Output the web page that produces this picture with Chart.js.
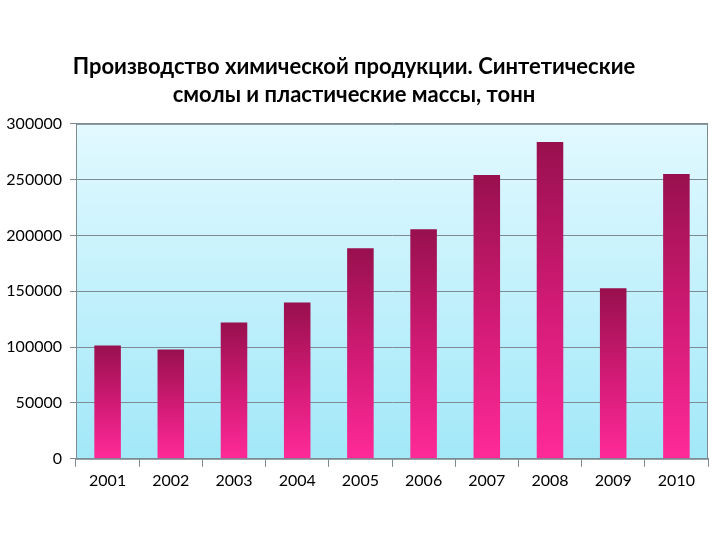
<!DOCTYPE html>
<html>
<head>
<meta charset="utf-8">
<script src="https://cdn.jsdelivr.net/npm/chart.js@4"></script>
<style>
  html, body { margin: 0; padding: 0; background: #fff; }
  #wrap { width: 720px; height: 540px; }
</style>
</head>
<body>
<div id="wrap"><canvas id="chart" width="720" height="540"></canvas></div>
<script>
// chart data
const years = ['2001', '2002', '2003', '2004', '2005', '2006', '2007', '2008', '2009', '2010'];
const tonnes = [101500, 97900, 122100, 140100, 188600, 205700, 254200, 283800, 152700, 255100];
const titleLines = ['Производство химической продукции. Синтетические', 'смолы и пластические массы, тонн'];

const fontFamily = 'Lato, "Open Sans", sans-serif';

// gradient per bar, dark on top, pink at the base
function barGradient(context) {
    const chart = context.chart;
    const yScale = chart.scales.y;
    if (!chart.chartArea || !yScale) return '#e0207a';
    const value = context.parsed ? context.parsed.y : tonnes[context.dataIndex];
    const top = yScale.getPixelForValue(value);
    const bottom = yScale.getPixelForValue(0);
    const g = chart.ctx.createLinearGradient(0, top, 0, bottom);
    g.addColorStop(0, '#98104e');
    g.addColorStop(0.5, '#d01a74');
    g.addColorStop(1, '#ff2a98');
    return g;
}

// light blue plot area background plus border
const plotBackground = {
    id: 'plotBackground',
    beforeDraw(chart) {
        const { ctx, chartArea: a } = chart;
        const g = ctx.createLinearGradient(0, a.top, 0, a.bottom);
        g.addColorStop(0, '#e2f9ff');
        g.addColorStop(1, '#a2e8f8');
        ctx.save();
        ctx.fillStyle = g;
        ctx.fillRect(a.left, a.top, a.right - a.left, a.bottom - a.top);
        ctx.restore();
    },
    afterDraw(chart) {
        const { ctx, chartArea: a } = chart;
        ctx.save();
        ctx.strokeStyle = '#7d8c92';
        ctx.lineWidth = 1;
        ctx.strokeRect(a.left + 0.5, a.top + 0.5, a.right - a.left - 1, a.bottom - a.top);
        ctx.restore();
    }
};

new Chart(document.getElementById('chart').getContext('2d'), {
    type: 'bar',
    data: {
        labels: years,
        datasets: [{
            data: tonnes,
            backgroundColor: barGradient,
            categoryPercentage: 1,
            barPercentage: 0.42
        }]
    },
    options: {
        responsive: false,
        animation: false,
        layout: { padding: { left: 0, right: 12, top: 0, bottom: 46 } },
        plugins: {
            legend: { display: false },
            tooltip: { enabled: false },
            title: {
                display: true,
                text: titleLines,
                color: '#000',
                font: { family: fontFamily, size: 22, weight: 'bold', lineHeight: 1.27 },
                padding: { top: 53, bottom: 15 }
            }
        },
        scales: {
            x: {
                grid: { drawOnChartArea: false, offset: true, tickLength: 8, color: '#7d8c92' },
                border: { color: '#7d8c92' },
                ticks: { color: '#000', font: { family: fontFamily, size: 16 }, padding: 4 }
            },
            y: {
                min: 0,
                max: 300000,
                afterFit(scale) { scale.width = 76; },
                grid: { color: '#7d8c92', tickLength: 6 },
                border: { color: '#7d8c92' },
                ticks: {
                    stepSize: 50000,
                    color: '#000',
                    font: { family: fontFamily, size: 16 },
                    padding: 8,
                    callback: (v) => String(v)
                }
            }
        }
    },
    plugins: [plotBackground]
});
</script>
</body>
</html>
